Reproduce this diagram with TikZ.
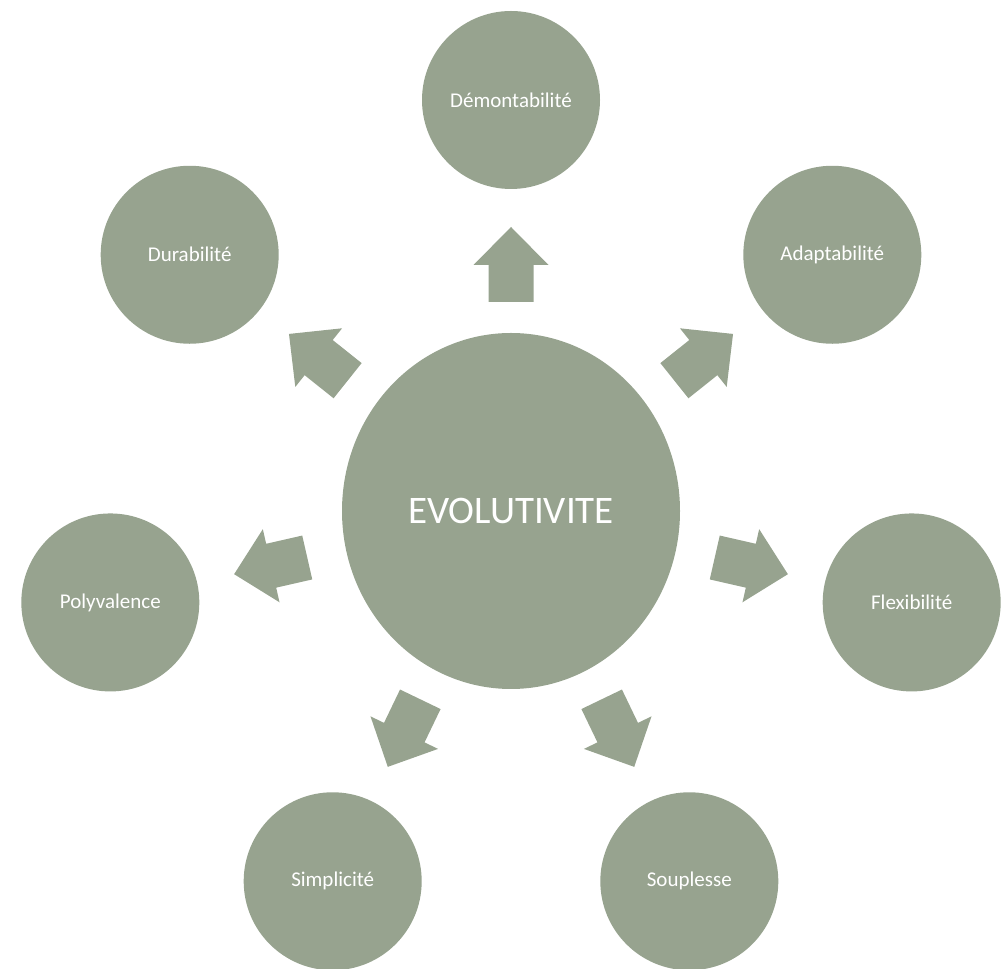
\documentclass[tikz,border=0pt]{standalone}
\usepackage{fontspec}
\setmainfont{Carlito}
\usetikzlibrary{shapes.geometric,calc}
\definecolor{sage}{RGB}{151,163,143}
\tikzset{
  hub/.style={ellipse, fill=sage, draw=none, minimum width=338pt, minimum height=356pt, inner sep=0pt,
    text=white, font=\fontsize{39}{44}\selectfont},
  leaf/.style={circle, fill=sage, draw=none, minimum size=178pt, inner sep=0pt,
    text=white, font=\fontsize{21}{25}\selectfont},
  blockarrow/.style={fill=sage, draw=none}
}
\begin{document}
\begin{tikzpicture}[x=1pt,y=1pt]
\useasboundingbox (0,0) rectangle (1004,969);
\node[hub] (c) at (511,458) {EVOLUTIVITE};
\node[leaf] (dem) at ($(c.center)+(90:411)$) {Démontabilité};
\node[leaf] (ada) at ($(c.center)+(38.571:411)$) {Adaptabilité};
\node[leaf] (fle) at ($(c.center)+(-12.857:411)$) {Flexibilité};
\node[leaf] (sou) at ($(c.center)+(-64.286:411)$) {Souplesse};
\node[leaf] (sim) at ($(c.center)+(-115.714:411)$) {Simplicité};
\node[leaf] (pol) at ($(c.center)+(-167.143:411)$) {Polyvalence};
\node[leaf] (dur) at ($(c.center)+(141.429:411)$) {Durabilité};
\foreach \a in {90,38.571,-12.857,-64.286,-115.714,-167.143,141.429}{
  \fill[blockarrow, shift={(c.center)}, rotate=\a]
    (209,-22.5) -- (246,-22.5) -- (246,-37.5) -- (284,0) -- (246,37.5) -- (246,22.5) -- (209,22.5) -- cycle;
}
\end{tikzpicture}
\end{document}
